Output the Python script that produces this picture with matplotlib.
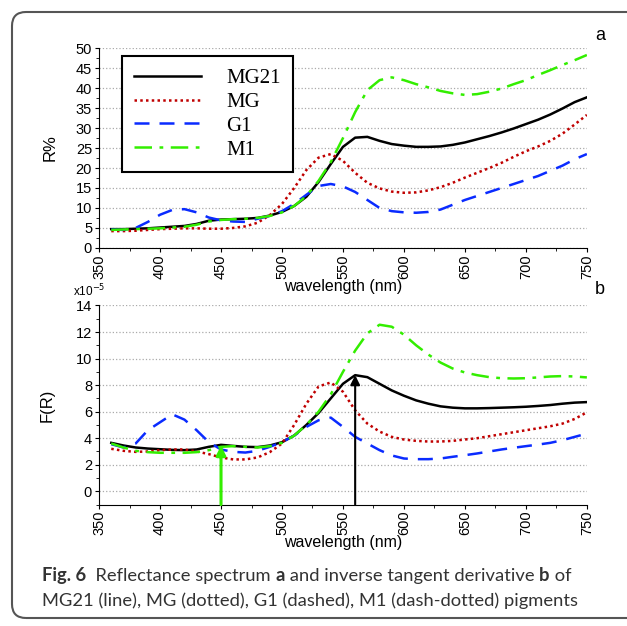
import matplotlib.pyplot as plt
import matplotlib.patches as patches
from matplotlib.transforms import IdentityTransform
import numpy as np

# wavelength grid (nm), values every 10 nm
wavelength = np.arange(360, 751, 10)

# panel a: reflectance R%
r_mg21 = [4.7, 4.7, 4.8, 4.9, 5.1, 5.3, 5.5, 6.0, 6.8, 7.1, 7.2, 7.3, 7.5, 8.1, 9.0, 10.5, 12.8, 16.5, 21.0, 25.3,
          27.6, 27.8, 26.8, 26.0, 25.6, 25.3, 25.3, 25.4, 25.8, 26.4, 27.2, 28.0, 28.9, 29.9, 31.0, 32.1, 33.4, 34.9, 36.5, 37.7]
r_mg = [4.2, 4.2, 4.3, 4.5, 4.7, 4.8, 4.9, 4.9, 4.8, 4.8, 5.0, 5.4, 6.3, 8.2, 11.0, 15.0, 19.5, 22.6, 23.5, 21.8,
        18.8, 16.3, 14.9, 14.1, 13.8, 13.9, 14.4, 15.2, 16.3, 17.6, 18.8, 20.0, 21.3, 22.8, 24.2, 25.4, 26.8, 28.6, 30.9, 33.3]
r_g1 = [4.6, 4.5, 5.0, 6.5, 8.3, 9.5, 9.7, 8.9, 7.6, 6.9, 6.6, 6.5, 7.3, 8.0, 9.2, 11.0, 13.3, 15.5, 16.0, 15.4,
        14.0, 12.0, 10.0, 9.2, 8.9, 8.8, 9.0, 9.6, 10.8, 12.0, 13.0, 14.0, 15.0, 16.0, 17.0, 18.0, 19.3, 20.6, 22.2, 23.5]
r_m1 = [4.5, 4.6, 4.7, 4.8, 4.9, 5.1, 5.3, 5.8, 6.6, 7.0, 7.2, 7.3, 7.5, 8.0, 8.9, 10.5, 13.0, 16.8, 21.5, 27.5,
        34.0, 39.5, 42.0, 42.7, 42.0, 41.0, 40.2, 39.3, 38.7, 38.3, 38.5, 39.1, 39.9, 41.0, 42.0, 43.3, 44.5, 45.8, 47.0, 48.3]

# panel b: F(R), in units of 1e-5
f_mg21 = [3.65, 3.45, 3.3, 3.22, 3.17, 3.12, 3.1, 3.15, 3.35, 3.5, 3.42, 3.35, 3.33, 3.45, 3.7, 4.2, 5.0, 5.9, 7.0, 8.1,
          8.75, 8.6, 8.1, 7.6, 7.2, 6.85, 6.6, 6.4, 6.3, 6.25, 6.25, 6.27, 6.3, 6.33, 6.37, 6.43, 6.5, 6.6, 6.68, 6.72]
f_mg = [3.2, 3.05, 2.97, 3.0, 3.1, 3.15, 3.15, 3.0, 2.8, 2.55, 2.4, 2.4, 2.55, 2.95, 3.6, 5.0, 6.6, 7.9, 8.2, 7.5,
        6.1, 5.1, 4.5, 4.1, 3.9, 3.8, 3.75, 3.75, 3.8, 3.9, 4.0, 4.15, 4.3, 4.45, 4.6, 4.75, 4.9, 5.1, 5.45, 5.95]
f_g1 = [3.55, 3.3, 3.6, 4.6, 5.2, 5.8, 5.4, 4.6, 3.7, 3.15, 2.97, 2.92, 3.05, 3.35, 3.7, 4.2, 4.85, 5.35, 5.55, 4.85,
        4.1, 3.6, 3.1, 2.7, 2.47, 2.42, 2.42, 2.47, 2.6, 2.72, 2.85, 3.0, 3.15, 3.28, 3.4, 3.52, 3.65, 3.85, 4.1, 4.35]
f_m1 = [3.6, 3.3, 3.05, 2.95, 2.9, 2.9, 2.9, 2.95, 3.1, 3.35, 3.4, 3.35, 3.3, 3.4, 3.65, 4.2, 5.0, 6.0, 7.3, 9.0,
        10.6, 11.9, 12.55, 12.4, 11.8, 11.0, 10.3, 9.7, 9.25, 8.95, 8.75, 8.6, 8.52, 8.5, 8.52, 8.58, 8.65, 8.68, 8.65, 8.58]

# arrows in panel b (wavelength, tip value)
arrow_x = [450, 560]
arrow_tip = [3.45, 8.75]
arrow_colors = ['#33ee00', 'black']

names = ['MG21', 'MG', 'G1', 'M1']
colors = ['black', '#c00000', '#0a2bff', '#33ee00']
styles = ['-', (0, (1, 1.3)), (0, (6, 4)), (0, (7, 3, 1.5, 3))]
widths = [1.8, 1.8, 1.8, 1.8]

plt.rcParams['font.family'] = ['Liberation Sans', 'DejaVu Sans']

fig = plt.figure(figsize=(6.27, 6.26), dpi=100)
ax1 = fig.add_axes([0.158, 0.604, 0.778, 0.319])
ax2 = fig.add_axes([0.158, 0.194, 0.778, 0.318])

# rounded frame around the figure
frame = patches.FancyBboxPatch((12, 8), 660, 606, boxstyle='round,pad=0,rounding_size=14',
                               transform=IdentityTransform(), fill=False, ec='#555555', lw=1.5)
fig.patches.append(frame)


def style_axes(ax, ylim, major, minor):
    ax.set_xlim(350, 750)
    ax.set_ylim(*ylim)
    ax.set_xticks(np.arange(350, 751, 50))
    ax.set_xticks(np.arange(350, 751, 25), minor=True)
    ax.set_yticks(np.arange(max(ylim[0], 0), ylim[1] + 0.01, major))
    ax.set_yticks(np.arange(ylim[0], ylim[1] + 0.01, minor), minor=True)
    for s in ['top', 'right']:
        ax.spines[s].set_visible(False)
    ax.tick_params(axis='x', labelrotation=90, labelsize=10.5, direction='out', length=3, pad=1.5)
    ax.tick_params(axis='y', labelsize=10.5, direction='out', length=3, pad=2)
    ax.tick_params(which='minor', length=2)
    ax.yaxis.grid(True, linestyle=':', color='#aaaaaa', lw=0.9)
    ax.set_axisbelow(True)
    ax.set_xlabel('wavelength (nm)', fontsize=11.5, labelpad=0)


rvals = [r_mg21, r_mg, r_g1, r_m1]
fvals = [f_mg21, f_mg, f_g1, f_m1]
for i in range(4):
    ax1.plot(wavelength, rvals[i], color=colors[i], linestyle=styles[i], lw=widths[i], label=names[i])
    ax2.plot(wavelength, fvals[i], color=colors[i], linestyle=styles[i], lw=widths[i])

style_axes(ax1, (0, 50), 5, 2.5)
style_axes(ax2, (-1, 14), 2, 1)
ax1.set_ylabel('R%', fontsize=12, labelpad=13)
ax2.set_ylabel('F(R)', fontsize=12, labelpad=15)

for x, tip, c in zip(arrow_x, arrow_tip, arrow_colors):
    ax2.annotate('', xy=(x, tip), xytext=(x, -1),
                 arrowprops=dict(arrowstyle='-|>', color=c, lw=2.2 if c != 'black' else 1.5,
                                 mutation_scale=14, shrinkA=0, shrinkB=0))

leg = ax1.legend(loc='upper left', bbox_to_anchor=(0.047, 0.96), borderaxespad=0,
                 prop={'family': 'Liberation Serif', 'size': 15}, handlelength=3.2,
                 handletextpad=1.2, labelspacing=0.2, borderpad=0.6, fancybox=False,
                 framealpha=1, edgecolor='black')
leg.get_frame().set_linewidth(1.5)

ax2.text(-0.02, 1.075, r'x10$^{-5}$', transform=ax2.transAxes, fontsize=8.5, ha='center', va='center')

fig.text(600 / 627, 1 - 35 / 626, 'a', fontsize=13, ha='center', va='center')
fig.text(600 / 627, 1 - 290 / 626, 'b', fontsize=13, ha='center', va='center')

# caption with mixed bold/normal runs
renderer = fig.canvas.get_renderer()


def rich_line(x, y, parts):
    for s, w in parts:
        t = fig.text(x, y, s, transform=IdentityTransform(), fontsize=13.2, fontweight=w,
                     family='Lato', color='#333333', va='baseline')
        x = t.get_window_extent(renderer).x1


rich_line(42, 626 - 581, [('Fig. 6', 'bold'), ('  Reflectance spectrum ', 'normal'), ('a', 'bold'),
                          (' and inverse tangent derivative ', 'normal'), ('b', 'bold'), (' of', 'normal')])
rich_line(42, 626 - 606, [('MG21 (line), MG (dotted), G1 (dashed), M1 (dash-dotted) pigments', 'normal')])

fig.savefig('out.png', dpi=100)
